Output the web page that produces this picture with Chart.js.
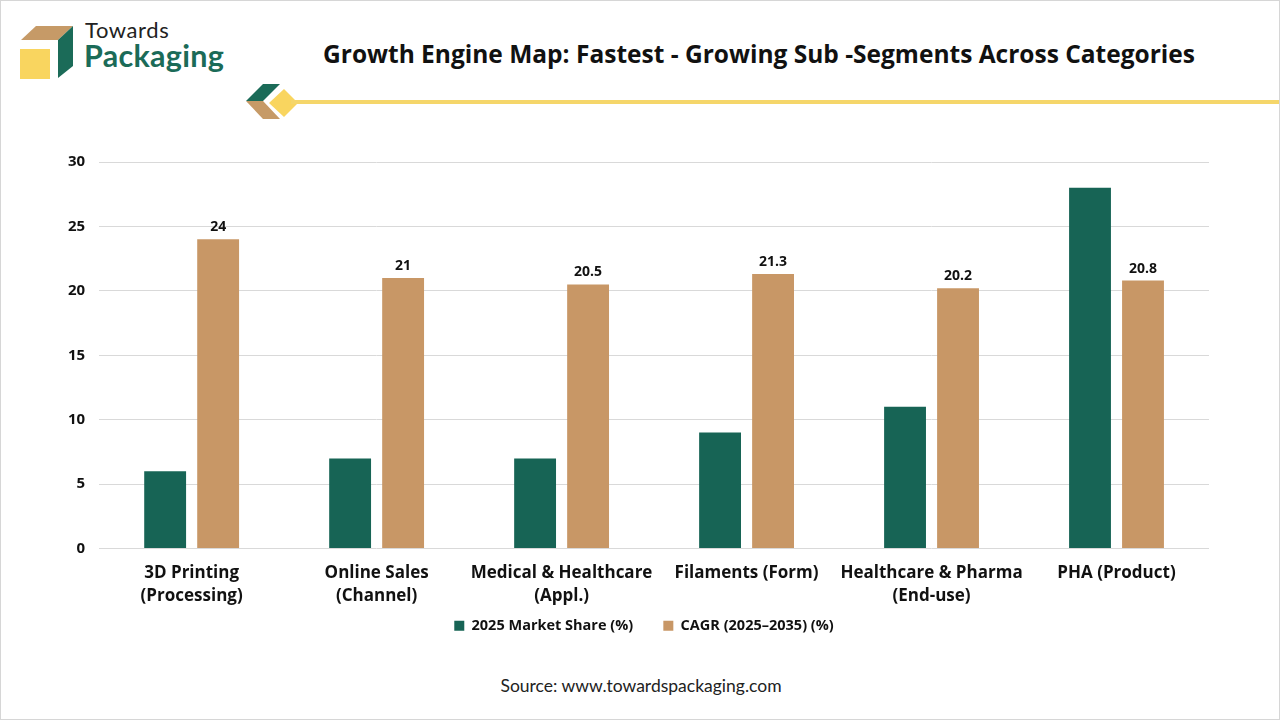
<!DOCTYPE html>
<html>
<head>
<meta charset="utf-8">
<script src="https://cdn.jsdelivr.net/npm/chart.js@4.4.1/dist/chart.umd.min.js"></script>
<style>
  html, body { margin: 0; padding: 0; background: #fff; }
  #page {
    position: relative; width: 1278px; height: 718px;
    border: 1px solid #d6d6d6; background: #fff; overflow: hidden;
    font-family: "Open Sans", sans-serif;
  }
  #logo { position: absolute; left: 0; top: 0; }
  #brand1 { position: absolute; left: 84px; top: 15px; font: 400 22px "Lato", sans-serif; color: #222; letter-spacing: 0.6px; }
  #brand2 { position: absolute; left: 83px; top: 36px; font: 700 30.5px "Lato", sans-serif; color: #1b6b58; letter-spacing: 0.3px; }
  #title {
    position: absolute; left: 240px; width: 1036px; top: 36px; text-align: center;
    font: 700 24.5px "Open Sans", sans-serif; color: #111;
  }
  #source {
    position: absolute; left: 0; width: 1280px; top: 674px; text-align: center;
    font: 400 17.5px "Lato", sans-serif; color: #222;
  }
  #wrap { position: absolute; left: 0; top: 138px; width: 1280px; height: 504px; }
</style>
</head>
<body>
<div id="page">
  <svg id="logo" width="1280" height="130">
    <rect x="19" y="48" width="30" height="30" fill="#f9d55f"/>
    <polygon points="20,39 35,25 72,25 57,39" fill="#c69a67"/>
    <polygon points="57,39 72,25 72,65 57,77" fill="#1b6b58"/>
    <polygon points="245,100 262,83 279,83 262,100" fill="#1b6b58"/>
    <polygon points="245,100 262,100 279,118 262,118" fill="#c69a67"/>
    <polygon points="268,102 283,88 297,102 283,116" fill="#f9d55f"/>
    <rect x="290" y="99" width="990" height="4" fill="#f5d66a"/>
  </svg>
  <div id="brand1">Towards</div>
  <div id="brand2">Packaging</div>
  <div id="title">Growth Engine Map: Fastest - Growing Sub -Segments Across Categories</div>
  <div id="wrap"><canvas id="growthChart"></canvas></div>
  <div id="source">Source: www.towardspackaging.com</div>
</div>
<script>
const categories = [
  ['3D Printing', '(Processing)'],
  ['Online Sales', '(Channel)'],
  ['Medical & Healthcare', '(Appl.)'],
  ['Filaments (Form)'],
  ['Healthcare & Pharma', '(End-use)'],
  ['PHA (Product)']
];
const marketShare = [6, 7, 7, 9, 11, 28];
const cagr = [24, 21, 20.5, 21.3, 20.2, 20.8];
const seriesNames = ['2025 Market Share (%)', 'CAGR (2025\u20132035) (%)'];

const valueLabels = {
  id: 'valueLabels',
  afterDatasetsDraw(chart) {
    const ctx = chart.ctx;
    const meta = chart.getDatasetMeta(1);
    ctx.save();
    ctx.font = 'bold 14px "Open Sans", sans-serif';
    ctx.fillStyle = '#111';
    ctx.textAlign = 'center';
    ctx.textBaseline = 'bottom';
    meta.data.forEach(function(bar, i) {
      ctx.fillText(String(cagr[i]), bar.x, bar.y - 5);
    });
    ctx.restore();
  }
};

const ctx = document.getElementById("growthChart").getContext("2d");
const growthChart = new Chart(ctx, {
  type: 'bar',
  data: {
    labels: categories,
    datasets: [{
      label: seriesNames[0],
      data: marketShare,
      backgroundColor: '#176455'
    }, {
      label: seriesNames[1],
      data: cagr,
      backgroundColor: '#c89766'
    }]
  },
  options: {
    responsive: true,
    maintainAspectRatio: false,
    animation: false,
    categoryPercentage: 0.573,
    barPercentage: 0.79,
    layout: { padding: { left: 53, right: 47, top: 14, bottom: 0 } },
    plugins: {
      tooltip: { enabled: false },
      legend: {
        position: 'bottom',
        labels: {
          boxWidth: 10, boxHeight: 10, padding: 6,
          color: '#111',
          font: { family: '"Open Sans", sans-serif', size: 14.5, weight: 'bold' },
          generateLabels(chart) {
            const items = Chart.defaults.plugins.legend.labels.generateLabels(chart);
            items[0].text = items[0].text + '\u2003\u2002\u2009';
            return items;
          }
        }
      }
    },
    scales: {
      x: {
        grid: { display: false },
        border: { display: false },
        ticks: {
          color: '#111', maxRotation: 0, padding: 5, autoSkip: false,
          font: { family: '"Open Sans", sans-serif', size: 17, weight: 'bold', lineHeight: 1.35 }
        }
      },
      y: {
        min: 0, max: 30,
        grid: { color: '#d9d9d9', drawTicks: false },
        border: { display: false },
        ticks: {
          stepSize: 5, padding: 14, color: '#111',
          font: { family: '"Open Sans", sans-serif', size: 15, weight: 'bold' }
        }
      },
      y2: {
        position: 'right',
        grid: { display: false },
        border: { display: false },
        ticks: { display: false },
        afterFit(scale) { scale.width = 25; }
      }
    }
  },
  plugins: [valueLabels]
});
</script>
</body>
</html>
